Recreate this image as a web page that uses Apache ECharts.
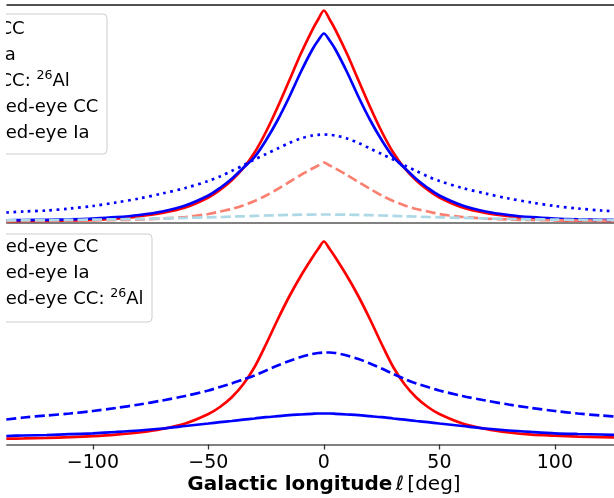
<!DOCTYPE html>
<html>
<head>
<meta charset="utf-8">
<script src="https://cdn.jsdelivr.net/npm/echarts@6/dist/echarts.min.js"></script>
<style>
  html, body { margin: 0; padding: 0; background: #fff; }
  #chart { width: 614px; height: 498px; }
</style>
</head>
<body>
<div id="chart"></div>
<script>
// Galactic longitude sample points (deg)
const lon = [-137.5,-130,-120,-110,-100,-90,-80,-70,-60,-50,-45,-40,-35,-30,-25,-20,-15,-10,-5,-2.5,0,2.5,5,10,15,20,25,30,35,40,45,50,60,70,80,90,100,110,120,130,137.5];

// Top panel (arbitrary units)
const topAllCC      = [1.4,1.5,1.7,2,2.6,3.8,6.2,9.5,15,25,32.5,42,54,70,91,115.5,142,168.7,192.7,203,212,203,192.7,168.7,142,115.5,91,70,54,42,32.5,25,15,9.5,6.2,3.8,2.6,2,1.7,1.5,1.4];
const topAllIa      = [2.2,2.4,2.7,3.2,4,5.3,7.5,11,17,27,34.5,43.5,54.5,65.5,82.5,102.5,125.5,150.5,173,182,189,182,173,150.5,125.5,102.5,82.5,65.5,54.5,43.5,34.5,27,17,11,7.5,5.3,4,3.2,2.7,2.4,2.2];
const topAllCCAl    = [10,11,12,14,16.5,20,24,29,34.5,41.5,46,51.5,57,63,68.5,74,79.5,84,87,87.7,88,87.7,87,84,79.5,74,68.5,63,57,51.5,46,41.5,34.5,29,24,20,16.5,14,12,10.8,10];
const topNakedCC    = [1.7,1.8,1.8,2,2.2,2.5,3,4,5.5,8.5,11,13.5,17,21.5,27,33.5,40.5,47.5,54,57,60,57,54,47.5,40.5,33.5,27,21.5,17,13.5,11,8.5,5.5,4,3,2.5,2.2,2,1.8,1.8,1.7];
const topNakedIa    = [2.2,2.3,2.4,2.6,2.9,3.2,3.6,4.1,4.6,5.2,5.5,5.9,6.2,6.6,7,7.3,7.6,7.8,7.95,8,8,8,7.95,7.8,7.6,7.3,7,6.6,6.2,5.9,5.5,5.2,4.6,4.1,3.6,3.2,2.9,2.6,2.4,2.3,2.2];

// Bottom panel (arbitrary units)
const botNakedCC    = [5.8,6.1,6.6,7.3,8.3,9.8,12,15.5,21,30.5,37.5,47,60,77.5,100.5,125,148,168.5,187,195.5,203,195.5,187,168.5,148,125,100.5,77.5,60,47,37.5,30.5,21,15.5,12,9.8,8.8,7.9,7.3,6.8,6.5];
const botNakedIa    = [8.5,9,9.5,10.3,11.2,12.5,14,16,18.5,21,22.3,23.5,24.8,26,27.3,28.3,29.3,30,30.7,31,31,31,30.7,30,29.3,28.3,27.3,26,24.8,23.5,22.3,21,18.5,16,14,12.5,11.2,10.5,10,9.4,9];
const botNakedCCAl  = [25,27,29,31,33.5,36.5,40,44,48.5,54,57.5,61,65,69,74,79,83.5,87.5,90.5,91.5,92,92,91.5,89,85.5,81,76,70.5,65.5,61,57.5,54,48.5,44,40,36.5,33.5,31,29,27.2,26];

const xTicks = [-100,-50,0,50,100];
const xMin = -137.2, xMax = 125.6;

const topLegend = [
  ['All CC'], ['All Ia'], ['All CC: ', '26', 'Al'], ['Naked-eye CC'], ['Naked-eye Ia']
];
const botLegend = [
  ['Naked-eye CC'], ['Naked-eye Ia'], ['Naked-eye CC: ', '26', 'Al']
];

const FONT = 'DejaVu Sans';
const pairs = arr => lon.map((l, i) => [l, arr[i]]);
const LW = 2.7;

function mkLine(name, arr, gi, color, type) {
  return {
    name, type: 'line', xAxisIndex: gi === 0 ? 0 : 2, yAxisIndex: gi,
    data: pairs(arr), showSymbol: false, symbol: 'none', smooth: 0.3,
    lineStyle: { color, width: LW, type: type || 'solid', cap: 'butt' },
    emphasis: { disabled: true }, silent: true, animation: false
  };
}

function legendText(parts) {
  if (parts.length === 1) return '{n|' + parts[0] + '}';
  return '{n|' + parts[0] + '}{s|' + parts[1] + '}{n|' + parts[2] + '}';
}
const rich = {
  n: { fontFamily: FONT, fontSize: 18, lineHeight: 24, color: '#000', verticalAlign: 'middle' },
  s: { fontFamily: FONT, fontSize: 12.6, lineHeight: 13, color: '#000', verticalAlign: 'top' }
};

const graphics = [];
function addLegend(items, top, right, rowTop) {
  graphics.push({
    type: 'rect', z: 100,
    shape: { x: -20, y: top, width: right + 20, height: items.length * 26 + 10, r: 4 },
    style: { fill: 'rgba(255,255,255,0.8)', stroke: '#cccccc', lineWidth: 1 }
  });
  items.forEach((p, i) => {
    graphics.push({
      type: 'text', z: 101, x: -28.5, y: rowTop + i * 26,
      style: { text: legendText(p), rich, verticalAlign: 'middle', align: 'left', font: '18px ' + FONT }
    });
  });
}
addLegend(topLegend, 14, 107, 29);
addLegend(botLegend, 234, 152, 247);
graphics.push({ type: 'rect', z: 200, shape: { x: 0, y: 0, width: 6, height: 498 }, style: { fill: '#fff' } });

const chart = echarts.init(document.getElementById('chart'), null, { renderer: 'canvas' });
chart.setOption({
  animation: false,
  backgroundColor: '#fff',
  grid: [
    { left: 7, right: 0, top: 4.5, height: 218 },
    { left: 7, right: 0, top: 222.5, height: 222 }
  ],
  xAxis: [
    { type: 'value', gridIndex: 0, min: xMin, max: xMax, position: 'bottom',
      axisLine: { show: true, onZero: false, lineStyle: { color: '#808080', width: 2 } },
      axisTick: { show: false }, axisLabel: { show: false }, splitLine: { show: false } },
    { type: 'value', gridIndex: 0, min: xMin, max: xMax, position: 'top',
      axisLine: { show: true, onZero: false, lineStyle: { color: '#1a1a1a', width: 1.5 } },
      axisTick: { show: false }, axisLabel: { show: false }, splitLine: { show: false } },
    { type: 'value', gridIndex: 1, min: xMin, max: xMax, position: 'bottom',
      axisLine: { show: true, onZero: false, lineStyle: { color: '#808080', width: 2 } },
      axisTick: { show: true, customValues: xTicks, length: 5, lineStyle: { color: '#333', width: 1.3 } },
      axisLabel: { show: true, customValues: xTicks, margin: 9, fontFamily: FONT, fontSize: 19, color: '#000',
        formatter: v => String(v).replace('-', '\u2212') },
      splitLine: { show: false },
      name: '{b|Galactic longitude} {i|\u2113} {n|[deg]}',
      nameLocation: 'middle', nameGap: 30,
      nameTextStyle: {
        padding: [0, 0, 0, 27],
        rich: {
          b: { fontFamily: FONT, fontSize: 20, fontWeight: 'bold', color: '#000' },
          i: { fontFamily: FONT, fontSize: 20, fontStyle: 'italic', color: '#000' },
          n: { fontFamily: FONT, fontSize: 20, color: '#000' }
        }
      }
    }
  ],
  yAxis: [
    { type: 'value', gridIndex: 0, min: 0, max: 218, show: false, splitLine: { show: false } },
    { type: 'value', gridIndex: 1, min: 0, max: 222, show: false, splitLine: { show: false } }
  ],
  series: [
    mkLine('All CC', topAllCC, 0, '#ff0000'),
    mkLine('All Ia', topAllIa, 0, '#0000ff'),
    mkLine('All CC: 26Al', topAllCCAl, 0, '#0000ff', [2.7, 4.5]),
    mkLine('Naked-eye CC', topNakedCC, 0, '#fa8072', [10, 4.3]),
    mkLine('Naked-eye Ia', topNakedIa, 0, '#add8e6', [10, 4.3]),
    mkLine('Naked-eye CC', botNakedCC, 1, '#ff0000'),
    mkLine('Naked-eye Ia', botNakedIa, 1, '#0000ff'),
    mkLine('Naked-eye CC: 26Al', botNakedCCAl, 1, '#0000ff', [10, 4.3])
  ],
  graphic: graphics
});
</script>
</body>
</html>
